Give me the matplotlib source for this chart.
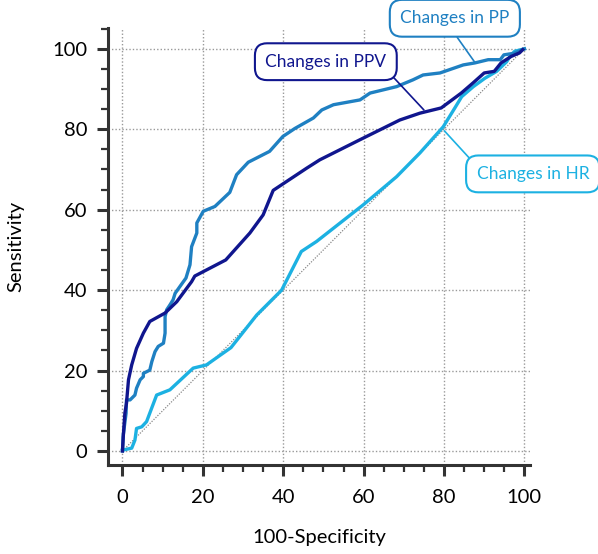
import matplotlib.pyplot as plt
from matplotlib.ticker import MultipleLocator

# ROC curves: 100-Specificity (x) vs Sensitivity (y)
pp_x = [0, 0.2, 0.9, 1.0, 1.9, 3.1, 3.5, 4.4, 5.2, 5.2, 6.8, 7.3, 8.1, 8.9, 10.2, 10.6, 10.6, 11.0,
        11.8, 12.6, 13.1, 14.3, 15.8, 16.8, 17.2, 18.5, 18.5, 20.1, 23.0, 26.7, 28.4, 31.3, 36.6,
        39.9, 42.9, 47.5, 49.6, 52.5, 59.1, 61.6, 68.2, 72.3, 74.8, 79.0, 84.8, 87.7, 91.0, 94.0,
        94.9, 97.4, 99.5, 100]
pp_y = [0, 4.0, 9.4, 12.7, 12.7, 13.9, 15.6, 17.7, 18.5, 19.3, 20.1, 22.2, 24.7, 26.0, 26.8, 29.3,
        33.4, 35.1, 36.3, 37.6, 39.2, 40.9, 43.0, 46.3, 50.8, 54.2, 56.7, 59.6, 60.8, 64.3, 68.7,
        71.8, 74.5, 78.2, 80.2, 82.8, 84.8, 86.1, 87.3, 89.0, 90.6, 92.3, 93.5, 94.0, 96.0, 96.5,
        97.3, 97.3, 98.5, 98.9, 99.8, 100]

ppv_x = [0, 0.2, 0.6, 1.0, 1.5, 2.3, 3.5, 5.2, 6.8, 10.6, 13.5, 17.2, 18.0, 25.7, 31.7, 35.0, 37.5,
         45.8, 49.1, 59.1, 69.0, 74.0, 79.3, 84.3, 87.2, 90.0, 92.5, 94.2, 96.7, 98.8, 99.6]
ppv_y = [0, 3.6, 9.4, 11.9, 17.7, 21.4, 25.5, 29.3, 32.2, 34.3, 37.1, 42.1, 43.5, 47.5, 54.2, 58.7,
         64.8, 70.3, 72.4, 77.4, 82.3, 84.0, 85.3, 89.0, 91.5, 94.0, 94.4, 96.5, 98.1, 99.0, 99.8]

hr_x = [0, 2.3, 3.1, 3.5, 4.8, 6.0, 8.5, 11.8, 17.6, 20.9, 27.0, 33.4, 39.6, 44.5, 48.3, 59.9, 68.2,
        74.0, 79.8, 82.7, 84.4, 87.3, 90.2, 93.1, 95.6, 96.4, 97.6, 100]
hr_y = [0.2, 0.7, 2.7, 5.6, 6.0, 7.3, 13.9, 15.2, 20.6, 21.4, 25.7, 33.8, 40.0, 49.6, 52.1, 61.2,
        68.2, 74.1, 80.6, 85.3, 88.1, 90.6, 92.7, 94.4, 96.8, 98.1, 99.4, 100]

ticks = [0, 20, 40, 60, 80, 100]

c_pp = '#1f80c2'
c_ppv = '#10168e'
c_hr = '#1cb1e2'

plt.rcParams['font.family'] = ['Lato', 'DejaVu Sans']

fig = plt.figure(figsize=(5.98, 5.54), dpi=100)
ax = fig.add_axes([0.1806, 0.1606, 0.7057, 0.789])

ax.plot([0, 100], [0, 100], color='#888888', lw=0.9, ls=(0, (1, 1.2)), zorder=2)
ax.plot(pp_x, pp_y, color=c_pp, lw=2.4, zorder=4)
ax.plot(hr_x, hr_y, color=c_hr, lw=2.4, zorder=3)
ax.plot(ppv_x, ppv_y, color=c_ppv, lw=2.4, zorder=5)

ax.set_xlim(-3.6, 101.4)
ax.set_ylim(-3.5, 105.2)
ax.set_xticks(ticks)
ax.set_yticks(ticks)
ax.xaxis.set_minor_locator(MultipleLocator(5))
ax.yaxis.set_minor_locator(MultipleLocator(5))
ax.grid(True, which='major', color='#999999', ls=(0, (1, 1.5)), lw=1.0)
ax.set_axisbelow(True)

for s in ['top', 'right']:
    ax.spines[s].set_visible(False)
for s in ['left', 'bottom']:
    ax.spines[s].set_linewidth(2.2)
    ax.spines[s].set_color('#333333')
ax.tick_params(which='major', length=8, width=2.2, color='#333333', labelsize=14.5)
ax.tick_params(axis='x', which='major', pad=9)
ax.tick_params(axis='y', which='major', pad=7)
ax.tick_params(which='minor', length=5, width=1.6, color='#333333')

ax.set_xlabel('100-Specificity', fontsize=14.5, labelpad=17)
ax.set_ylabel('Sensitivity', fontsize=14.5, labelpad=20)

def label(text, xy, xytext, color, relpos):
    ax.annotate(text, xy=xy, xytext=xytext, ha='center', va='center', fontsize=12.5, color=color,
                annotation_clip=False, zorder=6,
                bbox=dict(boxstyle='round,pad=0.6,rounding_size=0.7', fc='white', ec=color, lw=1.5),
                arrowprops=dict(arrowstyle='-', color=color, lw=1.2, relpos=relpos,
                                shrinkA=0, shrinkB=0))

label('Changes in PP', (87.7, 96.6), (82.7, 107.6), c_pp, (0.45, 0))
label('Changes in PPV', (75.0, 84.8), (50.6, 96.8), c_ppv, (1, 0))
label('Changes in HR', (80.1, 79.6), (102.1, 68.9), c_hr, (0, 1))

fig.savefig('out.png', dpi=100)
